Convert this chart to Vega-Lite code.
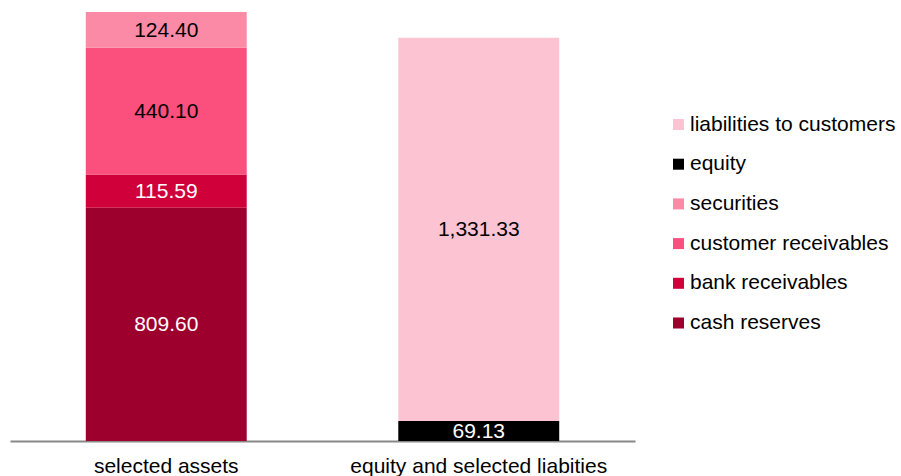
{
  "$schema": "https://vega.github.io/schema/vega-lite/v6.json",
  "autosize": "none",
  "width": 625,
  "height": 429,
  "padding": {"left": 10, "top": 12, "right": 266, "bottom": 35},
  "background": "white",
  "config": {
    "view": {"stroke": null},
    "font": "Liberation Sans"
  },
  "data": {
    "values": [
      {"group": "selected assets", "category": "cash reserves", "value": 809.60, "rank": 1},
      {"group": "selected assets", "category": "bank receivables", "value": 115.59, "rank": 2},
      {"group": "selected assets", "category": "customer receivables", "value": 440.10, "rank": 3},
      {"group": "selected assets", "category": "securities", "value": 124.40, "rank": 4},
      {"group": "equity and selected liabities", "category": "equity", "value": 69.13, "rank": 1},
      {"group": "equity and selected liabities", "category": "liabilities to customers", "value": 1331.33, "rank": 2}
    ]
  },
  "encoding": {
    "x": {
      "field": "group",
      "type": "nominal",
      "sort": ["selected assets", "equity and selected liabities"],
      "scale": {"paddingInner": 0.485, "paddingOuter": 0.2425},
      "axis": {
        "title": null,
        "labelAngle": 0,
        "ticks": false,
        "domainColor": "#888888",
        "domainWidth": 2,
        "labelFontSize": 21,
        "labelColor": "#000000",
        "labelPadding": 14,
        "labelLimit": 500,
        "labelOverlap": false,
        "labelFont": "Liberation Sans"
      }
    },
    "y": {
      "field": "value",
      "type": "quantitative",
      "stack": "zero",
      "scale": {"domain": [0, 1489.69], "nice": false, "zero": true},
      "axis": null
    },
    "order": {"field": "rank", "type": "quantitative"}
  },
  "layer": [
    {
      "mark": {"type": "bar"},
      "encoding": {
        "color": {
          "field": "category",
          "type": "nominal",
          "scale": {
            "domain": ["liabilities to customers", "equity", "securities", "customer receivables", "bank receivables", "cash reserves"],
            "range": ["#fcc3d3", "#000000", "#fb8aa6", "#fb507d", "#d0003b", "#9e002e"]
          },
          "legend": {
            "title": null,
            "orient": "none",
            "legendX": 658,
            "legendY": 102,
            "symbolType": "square",
            "symbolSize": 121,
            "symbolStrokeWidth": 0,
            "labelFontSize": 21,
            "labelFont": "Liberation Sans",
            "labelColor": "#000000",
            "labelOffset": 1,
            "rowPadding": 17.7,
            "padding": 0,
            "labelLimit": 400
          }
        }
      }
    },
    {
      "mark": {"type": "text", "fontSize": 21, "font": "Liberation Sans", "baseline": "middle", "align": "center", "dy": 1},
      "encoding": {
        "y": {
          "field": "value",
          "type": "quantitative",
          "stack": "zero",
          "bandPosition": 0.5
        },
        "text": {"field": "value", "type": "quantitative", "format": ",.2f"},
        "color": {
          "condition": {
            "test": "datum.category === 'cash reserves' || datum.category === 'bank receivables' || datum.category === 'equity'",
            "value": "#ffffff"
          },
          "value": "#000000"
        }
      }
    }
  ]
}
